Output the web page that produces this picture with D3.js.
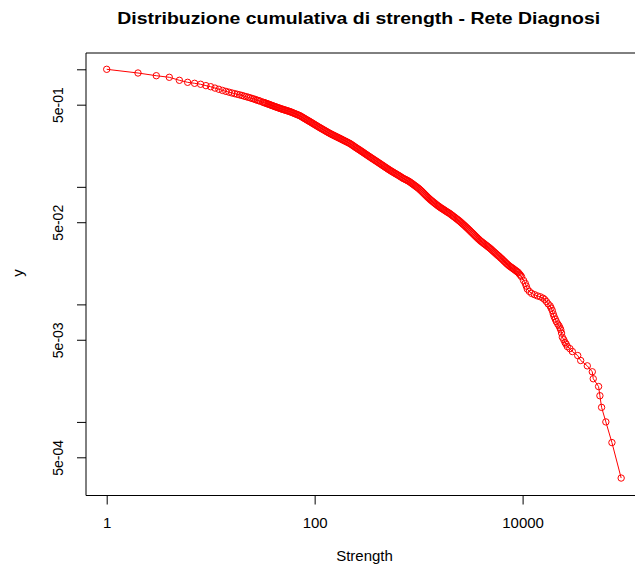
<!DOCTYPE html>
<html>
<head>
<meta charset="utf-8">
<script src="https://cdn.jsdelivr.net/npm/d3@7"></script>
<style>
  body { margin: 0; background: #fff; }
  svg { display: block; font-family: "Liberation Sans", Arial, sans-serif; }
</style>
</head>
<body>
<svg id="chart" width="635" height="572"></svg>
<script>
// ---- data ----
const strength = [
  1, 2, 3, 4, 5, 6, 7, 8, 9, 10,
  11, 12, 13, 14, 15, 16, 17, 18, 19, 20,
  21, 22, 23, 24, 25, 26, 27, 28, 29, 30,
  31.62, 32.36, 33.11, 33.88, 34.67, 35.48, 36.31, 37.15, 38.02, 38.90,
  39.81, 40.74, 41.69, 42.66, 43.65, 44.67, 45.71, 46.77, 47.86, 48.98,
  50.12, 51.29, 52.48, 53.70, 54.95, 56.23, 57.54, 58.88, 60.26, 61.66,
  63.10, 64.57, 66.07, 67.61, 69.18, 70.79, 72.44, 74.13, 75.86, 77.62,
  79.43, 81.28, 83.18, 85.11, 87.10, 89.13, 91.20, 93.33, 95.50, 97.72,
  100, 102.3, 104.7, 107.2, 109.6, 112.2, 114.8, 117.5, 120.2, 123.0,
  125.9, 128.8, 131.8, 134.9, 138.0, 141.3, 144.5, 147.9, 151.4, 154.9,
  158.5, 162.2, 166.0, 169.8, 173.8, 177.8, 182.0, 186.2, 190.5, 195.0,
  199.5, 204.2, 208.9, 213.8, 218.8, 223.9, 229.1, 234.4, 239.9, 245.5,
  251.2, 257.0, 263.0, 269.2, 275.4, 281.8, 288.4, 295.1, 302.0, 309.0,
  316.2, 323.6, 331.1, 338.8, 346.7, 354.8, 363.1, 371.5, 380.2, 389.1,
  398.1, 407.4, 416.9, 426.6, 436.5, 446.7, 457.1, 467.7, 478.6, 489.8,
  501.2, 512.9, 524.8, 537.0, 549.5, 562.3, 575.4, 588.8, 602.6, 616.6,
  631.0, 645.7, 660.7, 676.1, 691.8, 707.9, 724.4, 741.3, 758.6, 776.3,
  794.3, 812.8, 831.8, 851.1, 871.0, 891.3, 912.0, 933.3, 955.0, 977.2,
  1000, 1023, 1047, 1072, 1096, 1122, 1148, 1175, 1202, 1230,
  1259, 1288, 1318, 1349, 1380, 1413, 1445, 1479, 1514, 1549,
  1585, 1622, 1660, 1698, 1738, 1778, 1820, 1862, 1905, 1950,
  1995, 2042, 2089, 2138, 2188, 2239, 2291, 2344, 2399, 2455,
  2512, 2570, 2630, 2692, 2754, 2818, 2884, 2951, 3020, 3090,
  3162, 3236, 3311, 3388, 3467, 3548, 3631, 3715, 3802, 3890,
  3981, 4074, 4169, 4266, 4365, 4467, 4571, 4677, 4786, 4898,
  5012, 5129, 5248, 5370, 5495, 5623, 5754, 5888, 6026, 6166,
  6310, 6457, 6607, 6761, 6918, 7079, 7244, 7413, 7586, 7762,
  7943, 8128, 8318, 8511, 8710, 8913, 9120, 9333, 9550, 9772,
  10200, 10600, 10850, 11100, 11600, 12200, 13000, 13900, 14800, 15700,
  16300, 16900, 17600, 18400, 18800, 19300, 19700, 20100, 20600, 21100,
  21800, 22400, 22900, 23300, 23700, 24100, 24900, 25600, 26200, 26900,
  28500, 30100, 33900, 36200, 41900, 46800, 47800, 53800, 55400, 57500,
  63200, 72300, 88700
];
const cumulative = [
  1, 0.930, 0.882, 0.855, 0.806, 0.775, 0.760, 0.746, 0.726, 0.711,
  0.692, 0.676, 0.661, 0.649, 0.639, 0.629, 0.621, 0.613, 0.606, 0.599,
  0.591, 0.585, 0.578, 0.572, 0.5645, 0.559, 0.5525, 0.546, 0.541, 0.5355,
  0.526, 0.5223, 0.5187, 0.515, 0.5112, 0.5073, 0.5035, 0.4997, 0.4958, 0.492,
  0.4883, 0.4847, 0.481, 0.4775, 0.4740, 0.4705, 0.4672, 0.4638, 0.4605, 0.4575,
  0.4546, 0.4516, 0.4487, 0.4459, 0.443, 0.440, 0.437, 0.434, 0.4303, 0.4267,
  0.423, 0.4195, 0.4161, 0.4126, 0.4091, 0.4055, 0.402, 0.3972, 0.3924, 0.3876,
  0.3829, 0.3782, 0.3735, 0.3692, 0.3649, 0.3606, 0.3562, 0.3518, 0.3474, 0.3432,
  0.3390, 0.3348, 0.3307, 0.3266, 0.3225, 0.3188, 0.3150, 0.3113, 0.3077, 0.3041,
  0.3005, 0.2970, 0.2935, 0.290, 0.2869, 0.2837, 0.2806, 0.2778, 0.2750, 0.2722,
  0.2695, 0.2668, 0.2641, 0.2615, 0.2588, 0.2562, 0.2536, 0.2509, 0.2483, 0.2458,
  0.2434, 0.2409, 0.2384, 0.2359, 0.2334, 0.2303, 0.2271, 0.224, 0.2209, 0.2177,
  0.2146, 0.2119, 0.2091, 0.2064, 0.2036, 0.2009, 0.1981, 0.1954, 0.1928, 0.1901,
  0.1875, 0.1850, 0.1824, 0.1800, 0.1775, 0.1751, 0.1728, 0.1705, 0.1682, 0.1660,
  0.1638, 0.1616, 0.1594, 0.1573, 0.1551, 0.1530, 0.1509, 0.1488, 0.1468, 0.1448,
  0.1428, 0.1410, 0.1391, 0.1373, 0.1356, 0.1340, 0.1323, 0.1308, 0.1292, 0.1277,
  0.1261, 0.1246, 0.1230, 0.1214, 0.1198, 0.1182, 0.1170, 0.1159, 0.1147, 0.1134,
  0.1122, 0.1109, 0.1093, 0.1077, 0.1061, 0.1046, 0.1030, 0.1015, 0.0999, 0.0984,
  0.0969, 0.0951, 0.0934, 0.0916, 0.0898, 0.0880, 0.0862, 0.0845, 0.0828, 0.0811,
  0.0797, 0.0782, 0.0768, 0.0756, 0.0743, 0.0731, 0.0719, 0.0708, 0.0696, 0.0686,
  0.0676, 0.0666, 0.0657, 0.0649, 0.0640, 0.0632, 0.0623, 0.0615, 0.0607, 0.0600,
  0.0592, 0.0583, 0.0574, 0.0565, 0.0556, 0.0548, 0.0539, 0.0531, 0.0522, 0.0514,
  0.0505, 0.0496, 0.0487, 0.0478, 0.0470, 0.0461, 0.0452, 0.0444, 0.0435, 0.0427,
  0.0418, 0.0410, 0.0402, 0.0394, 0.0386, 0.0378, 0.0371, 0.0363, 0.0357, 0.0350,
  0.0344, 0.0339, 0.0333, 0.0328, 0.0323, 0.0318, 0.0313, 0.0308, 0.0303, 0.0298,
  0.0293, 0.0287, 0.0282, 0.0277, 0.0272, 0.0267, 0.0262, 0.0258, 0.0253, 0.0248,
  0.0244, 0.0239, 0.0234, 0.0230, 0.0225, 0.0221, 0.0217, 0.0213, 0.0210, 0.0207,
  0.0204, 0.0201, 0.0198, 0.0195, 0.0192, 0.0189, 0.0186, 0.0181, 0.0177, 0.0172,
  0.0160, 0.0151, 0.0143, 0.0135, 0.0129, 0.0124, 0.0121, 0.0118, 0.0116, 0.0113,
  0.0110, 0.0106, 0.0101, 0.0097, 0.0093, 0.00886, 0.0083, 0.00787, 0.0075, 0.00714,
  0.0068, 0.00657, 0.0063, 0.00607, 0.0057, 0.00526, 0.0050, 0.00473, 0.0046, 0.00438,
  0.0042, 0.00397, 0.00367, 0.00333, 0.0030, 0.00267, 0.00233, 0.0020, 0.00167, 0.00133,
  0.0010, 0.000667, 0.000333
];
const xTickValues = [1, 100, 10000];
const xTickLabels = ["1", "100", "10000"];
const yTickValues = [1, 0.5, 0.1, 0.05, 0.01, 0.005, 0.001, 0.0005];
const yTickLabels = ["", "5e-01", "", "5e-02", "", "5e-03", "", "5e-04"];

const titleText = "Distribuzione cumulativa di strength - Rete Diagnosi";
const xLabel = "Strength";
const yLabel = "y";

// ---- layout ----
const svg = d3.select("#chart");
const box = { left: 86, top: 53, right: 643, bottom: 495 };

const x = d3.scaleLog().domain([1, 10000]).range([106.7, 522.6]);
const y = d3.scaleLog().domain([1, 0.0005]).range([69.3, 457.3]);

const n = Math.min(strength.length, cumulative.length);
const data = strength.slice(0, n).map((s, i) => ({ s, p: cumulative[i] }));

// plot box
svg.append("line").attr("x1", box.left).attr("x2", box.right)
  .attr("y1", box.top).attr("y2", box.top).attr("stroke", "#000").attr("stroke-width", 1);
svg.append("line").attr("x1", box.left).attr("x2", box.left)
  .attr("y1", box.top).attr("y2", box.bottom + 0.5).attr("stroke", "#000").attr("stroke-width", 1);
svg.append("line").attr("x1", box.left).attr("x2", box.right)
  .attr("y1", box.bottom + 0.5).attr("y2", box.bottom + 0.5).attr("stroke", "#000").attr("stroke-width", 1);

// x axis
const xAxis = d3.axisBottom(x).tickValues(xTickValues)
  .tickFormat((d, i) => xTickLabels[i]).tickSizeOuter(0).tickSize(9);
const gx = svg.append("g").attr("transform", `translate(0,${box.bottom + 0.5})`).call(xAxis);
gx.select(".domain").remove();
gx.selectAll(".tick line").attr("stroke", "#000");
gx.selectAll(".tick text").attr("y", 32).attr("dy", null)
  .attr("font-size", 15).attr("fill", "#000")
  .attr("font-family", "'Liberation Sans', Arial, sans-serif");

// y axis
const yAxis = d3.axisLeft(y).tickValues(yTickValues)
  .tickFormat((d, i) => yTickLabels[i]).tickSizeOuter(0).tickSize(9);
const gy = svg.append("g").attr("transform", `translate(${box.left},0)`).call(yAxis);
gy.select(".domain").remove();
gy.selectAll(".tick line").attr("stroke", "#000");
gy.selectAll(".tick text")
  .attr("x", 0).attr("dy", null).attr("y", -22.7)
  .attr("transform", "rotate(-90)")
  .attr("text-anchor", "middle")
  .attr("font-size", 14).attr("fill", "#000")
  .attr("font-family", "'Liberation Sans', Arial, sans-serif");

// title
svg.append("text").attr("x", 358.7).attr("y", 23.5)
  .attr("text-anchor", "middle").attr("font-weight", "bold")
  .attr("font-size", 16.5).attr("textLength", 483).attr("lengthAdjust", "spacingAndGlyphs")
  .attr("fill", "#000").text(titleText);

// axis labels
svg.append("text").attr("x", 364.5).attr("y", 561)
  .attr("text-anchor", "middle").attr("font-size", 15).attr("fill", "#000").text(xLabel);
svg.append("text").attr("transform", "translate(23,273) rotate(-90)")
  .attr("text-anchor", "middle").attr("font-size", 15).attr("fill", "#000").text(yLabel);

// line + points (type = "o")
const line = d3.line().x(d => x(d.s)).y(d => y(d.p));
svg.append("path").datum(data).attr("d", line)
  .attr("fill", "none").attr("stroke", "#ff0000").attr("stroke-width", 1);
svg.append("g").selectAll("circle").data(data).join("circle")
  .attr("cx", d => x(d.s)).attr("cy", d => y(d.p)).attr("r", 3.2)
  .attr("fill", "none").attr("stroke", "#ff0000").attr("stroke-width", 1);
</script>
</body>
</html>
